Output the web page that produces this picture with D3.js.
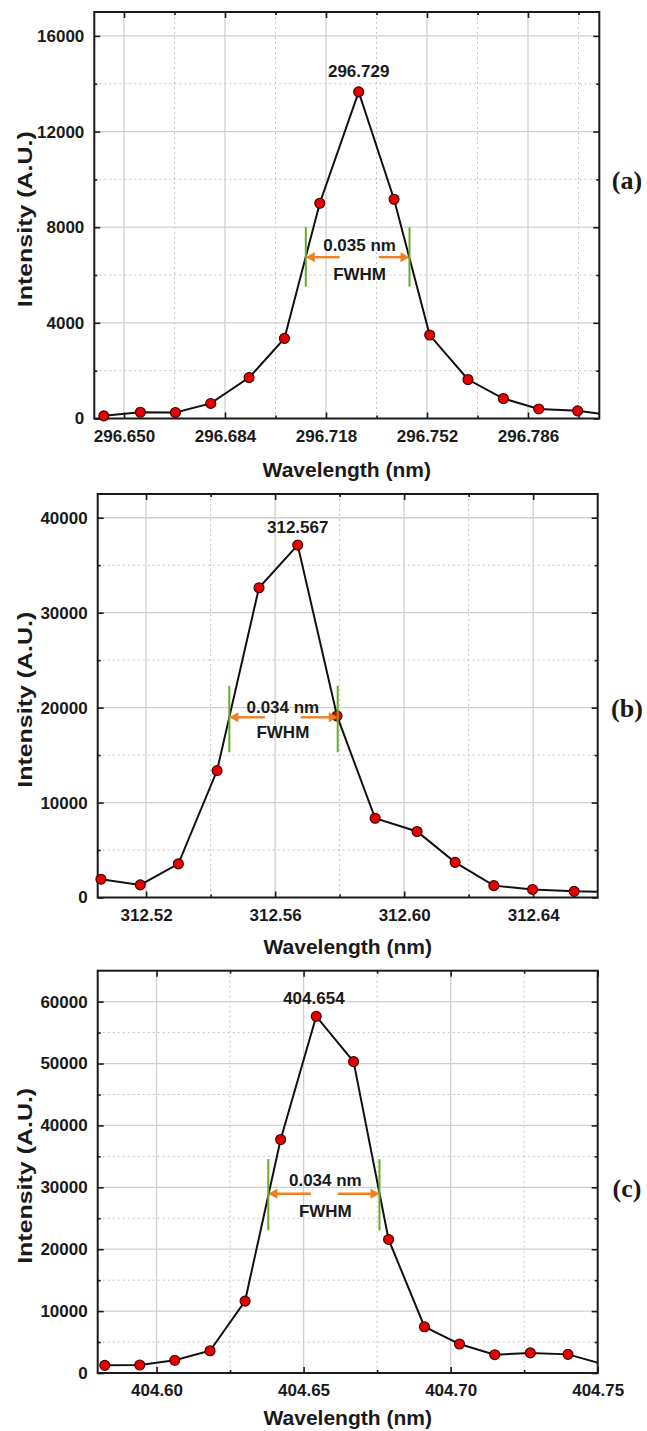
<!DOCTYPE html>
<html><head><meta charset="utf-8">
<script src="https://cdn.jsdelivr.net/npm/d3@7"></script>
<style>
body{margin:0;background:#fff;}
text{font-family:"Liberation Sans",Arial,sans-serif;font-weight:bold;fill:#1a1a1a;}
</style></head>
<body><svg id="chart" width="647" height="1431"></svg>
<script>
// ---- data ----
const wlA  = [296.6432,296.6555,296.6673,296.6792,296.6921,296.7040,296.7159,296.7290,296.7409,296.7529,296.7658,296.7777,296.7896,296.8027,296.8148];
const intA = [110,260,250,630,1710,3350,9000,13660,9170,3490,1630,835,400,320,130];
const wlB  = [312.5060,312.5182,312.5300,312.5420,312.5550,312.5670,312.5792,312.5910,312.6040,312.6158,312.6278,312.6398,312.6527,312.6650];
const intB = [1930,1330,3540,13370,32630,37120,19120,8350,6950,3700,1250,850,650,560];
const wlC  = [404.5824,404.5943,404.6062,404.6182,404.6301,404.6422,404.6543,404.6670,404.6789,404.6911,404.7030,404.7150,404.7271,404.7399,404.7520];
const intC = [1240,1290,2050,3600,11620,37720,57630,50310,21580,7480,4680,2960,3250,3010,1390];

const xTicksA = [296.650,296.684,296.718,296.752,296.786];
const xMinorA = [296.667,296.701,296.735,296.769,296.803];
const yTicksA = [0,4000,8000,12000,16000];
const yMinorA = [2000,6000,10000,14000];
const xTicksB = [312.52,312.56,312.60,312.64];
const xMinorB = [312.54,312.58,312.62];
const yTicksB = [0,10000,20000,30000,40000];
const yMinorB = [5000,15000,25000,35000];
const xTicksC = [404.60,404.65,404.70,404.75];
const xMinorC = [404.625,404.675,404.725];
const yTicksC = [0,10000,20000,30000,40000,50000,60000];
const yMinorC = [5000,15000,25000,35000,45000,55000];

const peakA = {wl:296.729, label:"296.729", y:14511};
const peakB = {wl:312.567, label:"312.567", y:39053};
const peakC = {wl:404.6535, label:"404.654", y:60648};
const fwhmA = {left:296.7112, right:296.7461, yLo:5510, yHi:8000, arrowY:6748, lFrom:296.7226, rFrom:296.7358, textX:296.7293, textY:7235, fwhmY:6024, text:"0.035 nm"};
const fwhmB = {left:312.5458, right:312.5794, yLo:15300, yHi:22300, arrowY:18982, lFrom:312.5568, rFrom:312.5680, textX:312.5624, textY:20035, fwhmY:17404, text:"0.034 nm"};
const fwhmC = {left:404.6380, right:404.6758, yLo:23030, yHi:34550, arrowY:28951, lFrom:404.6525, rFrom:404.6616, textX:404.6574, textY:31211, fwhmY:26099, text:"0.034 nm"};

// ---- layout ----
const panels = [
  {id:"a", wl:wlA, inten:intA, xDom:[296.64,296.81], yDom:[0,17000], xT:xTicksA, xM:xMinorA, yT:yTicksA, yM:yMinorA, fmt:".3f", peak:peakA, fw:fwhmA, label:"(a)",
   box:{l:94.3, r:599.3, t:12, b:418.5}, labelY:180, titleOff:58},
  {id:"b", wl:wlB, inten:intB, xDom:[312.505,312.66], yDom:[0,42500], xT:xTicksB, xM:xMinorB, yT:yTicksB, yM:yMinorB, fmt:".2f", peak:peakB, fw:fwhmB, label:"(b)",
   box:{l:97.7, r:597.7, t:494, b:897.5}, labelY:708, titleOff:56},
  {id:"c", wl:wlC, inten:intC, xDom:[404.58,404.75], yDom:[0,65000], xT:xTicksC, xM:xMinorC, yT:yTicksC, yM:yMinorC, fmt:".2f", peak:peakC, fw:fwhmC, label:"(c)",
   box:{l:97.7, r:597.7, t:970.7, b:1373}, labelY:1188, titleOff:52}
];

const svg = d3.select("#chart");
const defs = svg.append("defs");

panels.forEach(p => {
  const B = p.box;
  const x = d3.scaleLinear().domain(p.xDom).range([B.l, B.r]);
  const y = d3.scaleLinear().domain(p.yDom).range([B.b, B.t]);
  const g = svg.append("g");

  defs.append("clipPath").attr("id","clip"+p.id)
    .append("rect").attr("x",B.l).attr("y",B.t).attr("width",B.r-B.l).attr("height",B.b-B.t);

  // minor grid (dotted)
  g.selectAll(".vmin").data(p.xM).enter().append("line")
    .attr("x1",d=>x(d)).attr("x2",d=>x(d)).attr("y1",B.t).attr("y2",B.b)
    .attr("stroke","#c4c4c4").attr("stroke-width",1).attr("stroke-dasharray","2,3");
  g.selectAll(".hmin").data(p.yM).enter().append("line")
    .attr("y1",d=>y(d)).attr("y2",d=>y(d)).attr("x1",B.l).attr("x2",B.r)
    .attr("stroke","#c4c4c4").attr("stroke-width",1).attr("stroke-dasharray","2,3");
  // major grid
  g.selectAll(".vmaj").data(p.xT.filter(d=>x(d)<B.r-1)).enter().append("line")
    .attr("x1",d=>x(d)).attr("x2",d=>x(d)).attr("y1",B.t).attr("y2",B.b)
    .attr("stroke","#cfcfcf").attr("stroke-width",1.3);
  g.selectAll(".hmaj").data(p.yT.filter(d=>d>0)).enter().append("line")
    .attr("y1",d=>y(d)).attr("y2",d=>y(d)).attr("x1",B.l).attr("x2",B.r)
    .attr("stroke","#cfcfcf").attr("stroke-width",1.3);

  // axes with inward ticks
  const tickStyle = sel => { sel.select(".domain").remove(); sel.selectAll("line").attr("stroke","#1a1a1a").attr("stroke-width",1.6); };
  const bottom = g.append("g").attr("transform",`translate(0,${B.b})`)
    .call(d3.axisBottom(x).tickValues(p.xT).tickSize(-6).tickPadding(12).tickFormat(d3.format(p.fmt)));
  tickStyle(bottom);
  bottom.selectAll("text").attr("font-size",17).attr("fill","#1a1a1a").attr("y",11).attr("dy","0.71em");
  g.append("g").attr("transform",`translate(0,${B.b})`).call(d3.axisBottom(x).tickValues(p.xM).tickSize(-3).tickFormat("")).call(tickStyle);
  g.append("g").attr("transform",`translate(0,${B.t})`).call(d3.axisTop(x).tickValues(p.xT).tickSize(-6).tickFormat("")).call(tickStyle);
  g.append("g").attr("transform",`translate(0,${B.t})`).call(d3.axisTop(x).tickValues(p.xM).tickSize(-3).tickFormat("")).call(tickStyle);

  const left = g.append("g").attr("transform",`translate(${B.l},0)`)
    .call(d3.axisLeft(y).tickValues(p.yT).tickSize(-6).tickPadding(10).tickFormat(d3.format("d")));
  tickStyle(left);
  left.selectAll("text").attr("font-size",17).attr("fill","#1a1a1a");
  g.append("g").attr("transform",`translate(${B.l},0)`).call(d3.axisLeft(y).tickValues(p.yM).tickSize(-3).tickFormat("")).call(tickStyle);
  g.append("g").attr("transform",`translate(${B.r},0)`).call(d3.axisRight(y).tickValues(p.yT).tickSize(-6).tickFormat("")).call(tickStyle);
  g.append("g").attr("transform",`translate(${B.r},0)`).call(d3.axisRight(y).tickValues(p.yM).tickSize(-3).tickFormat("")).call(tickStyle);

  // frame
  g.append("rect").attr("x",B.l).attr("y",B.t).attr("width",B.r-B.l).attr("height",B.b-B.t)
    .attr("fill","none").attr("stroke","#1a1a1a").attr("stroke-width",2);

  // titles
  g.append("text").attr("x",(B.l+B.r)/2).attr("y",B.b+p.titleOff).attr("text-anchor","middle")
    .attr("font-size",21).text("Wavelength (nm)");
  g.append("text").attr("transform",`translate(32,${(B.t+B.b)/2+4}) rotate(-90)`).attr("text-anchor","middle")
    .attr("font-size",21).attr("textLength",176).attr("lengthAdjust","spacingAndGlyphs").text("Intensity (A.U.)");
  g.append("text").attr("x",627).attr("y",p.labelY).attr("dy","0.35em").attr("text-anchor","middle")
    .style("font-family","'Liberation Serif','Times New Roman',serif").attr("font-size",26).text(p.label);

  // series
  const pts = p.wl.map((w,i)=>({w, v:p.inten[i]}));
  g.append("path").datum(pts).attr("clip-path",`url(#clip${p.id})`)
    .attr("d", d3.line().x(d=>x(d.w)).y(d=>y(d.v)))
    .attr("fill","none").attr("stroke","#111").attr("stroke-width",2);
  g.selectAll(".pt").data(pts.filter(d=>d.w<=p.xDom[1])).enter().append("circle")
    .attr("cx",d=>x(d.w)).attr("cy",d=>y(d.v)).attr("r",5)
    .attr("fill","#e60000").attr("stroke","#3a0000").attr("stroke-width",1.1);

  // FWHM annotation
  const f = p.fw;
  [f.left,f.right].forEach(v=>{
    g.append("line").attr("x1",x(v)).attr("x2",x(v)).attr("y1",y(f.yLo)).attr("y2",y(f.yHi))
      .attr("stroke","#6aa828").attr("stroke-width",2);
  });
  const orange = "#f07f22";
  const arrow = (from,to)=>{
    const x0=x(from), x1=x(to), yy=y(f.arrowY), dir=Math.sign(x1-x0), hl=9, hw=5;
    g.append("line").attr("x1",x0).attr("x2",x1-dir*hl+dir).attr("y1",yy).attr("y2",yy)
      .attr("stroke",orange).attr("stroke-width",2.4);
    g.append("path").attr("d",`M${x1},${yy}L${x1-dir*hl},${yy-hw}L${x1-dir*hl},${yy+hw}Z`).attr("fill",orange);
  };
  arrow(f.lFrom, f.left);
  arrow(f.rFrom, f.right);
  g.append("text").attr("x",x(f.textX)).attr("y",y(f.textY)).attr("dy","0.35em").attr("text-anchor","middle")
    .attr("font-size",17).text(f.text);
  g.append("text").attr("x",x(f.textX)).attr("y",y(f.fwhmY)).attr("dy","0.35em").attr("text-anchor","middle")
    .attr("font-size",17).text("FWHM");
  g.append("text").attr("x",x(p.peak.wl)).attr("y",y(p.peak.y)).attr("dy","0.35em").attr("text-anchor","middle")
    .attr("font-size",17).text(p.peak.label);
});
</script></body></html>
